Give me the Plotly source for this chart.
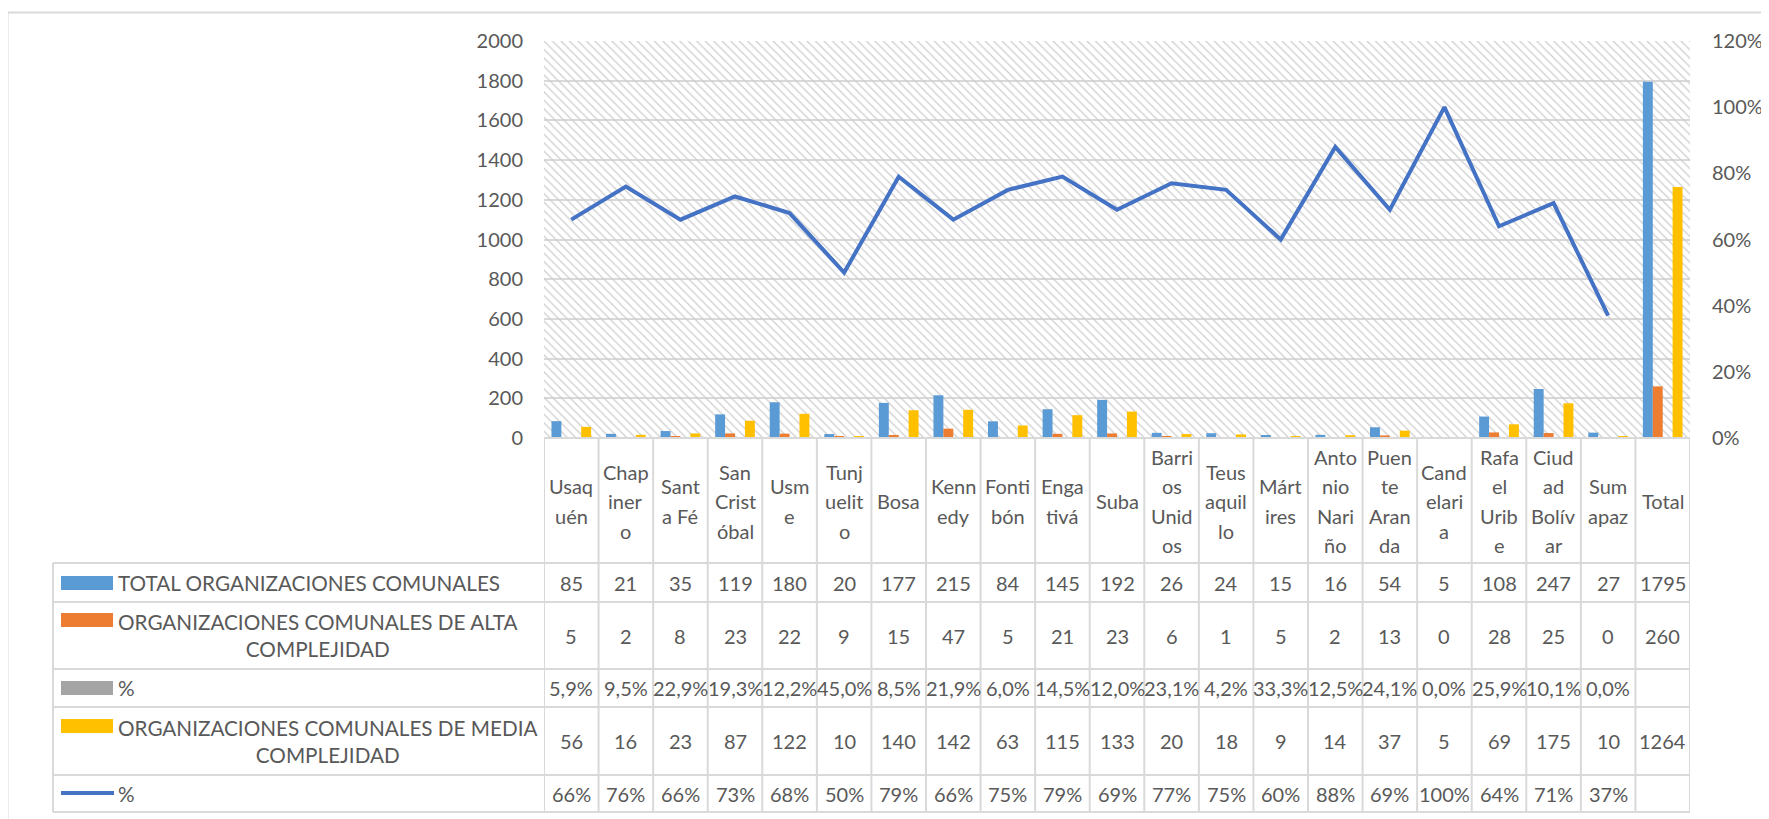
import plotly.graph_objects as go

# ---------------- data ----------------
categories = ["Usaquén", "Chapinero", "Santa Fé", "San Cristóbal", "Usme", "Tunjuelito",
              "Bosa", "Kennedy", "Fontibón", "Engativá", "Suba", "Barrios Unidos",
              "Teusaquillo", "Mártires", "Antonio Nariño", "Puente Aranda", "Candelaria",
              "Rafael Uribe", "Ciudad Bolívar", "Sumapaz", "Total"]
category_lines = [["Usaq", "uén"], ["Chap", "iner", "o"], ["Sant", "a Fé"], ["San", "Crist", "óbal"],
                  ["Usm", "e"], ["Tunj", "uelit", "o"], ["Bosa"], ["Kenn", "edy"], ["Fonti", "bón"],
                  ["Enga", "tivá"], ["Suba"], ["Barri", "os", "Unid", "os"], ["Teus", "aquil", "lo"],
                  ["Márt", "ires"], ["Anto", "nio", "Nari", "ño"], ["Puen", "te", "Aran", "da"],
                  ["Cand", "elari", "a"], ["Rafa", "el", "Urib", "e"], ["Ciud", "ad", "Bolív", "ar"],
                  ["Sum", "apaz"], ["Total"]]

total_org = [85, 21, 35, 119, 180, 20, 177, 215, 84, 145, 192, 26, 24, 15, 16, 54, 5, 108, 247, 27, 1795]
alta_org = [5, 2, 8, 23, 22, 9, 15, 47, 5, 21, 23, 6, 1, 5, 2, 13, 0, 28, 25, 0, 260]
pct_alta = [5.9, 9.5, 22.9, 19.3, 12.2, 45.0, 8.5, 21.9, 6.0, 14.5, 12.0, 23.1, 4.2, 33.3, 12.5,
            24.1, 0.0, 25.9, 10.1, 0.0, None]
media_org = [56, 16, 23, 87, 122, 10, 140, 142, 63, 115, 133, 20, 18, 9, 14, 37, 5, 69, 175, 10, 1264]
pct_media = [66, 76, 66, 73, 68, 50, 79, 66, 75, 79, 69, 77, 75, 60, 88, 69, 100, 64, 71, 37, None]

series_names = ["TOTAL ORGANIZACIONES COMUNALES",
                "ORGANIZACIONES COMUNALES DE ALTA<br>COMPLEJIDAD",
                "%",
                "ORGANIZACIONES COMUNALES DE MEDIA<br>COMPLEJIDAD",
                "%"]
left_ticks = list(range(0, 2001, 200))
right_ticks = [0, 0.2, 0.4, 0.6, 0.8, 1.0, 1.2]

# ---------------- style ----------------
OFF = 8                                      # default page body margin
W, H = 1769 - OFF, 819 - OFF
PL, PR, PT, PB = 544, 1690, 41, 438          # plot area in screen pixels
FONT = "Lato"
TXT = "#595959"
GRID = "#D9D9D9"
C_BLUE, C_ORANGE, C_GRAY, C_YELLOW, C_LINE = "#5B9BD5", "#ED7D31", "#A5A5A5", "#FFC000", "#4472C4"


def px(p):
    return (p - PL) / (PR - PL)


def py(p):
    return (PB - p) / (PB - PT)


fig = go.Figure()

# hatched plot-area background
fig.add_trace(go.Bar(x=[categories[len(categories) // 2]], y=[1], width=[len(categories)],
                     marker=dict(color="#CDCDCD", line=dict(width=0),
                                 pattern=dict(shape="\\", size=6, solidity=0.2, fillmode="replace")),
                     xaxis="x", yaxis="y", hoverinfo="skip", showlegend=False))

bar_series = [(total_org, C_BLUE), (alta_org, C_ORANGE),
              ([None if v is None else v / 100 for v in pct_alta], C_GRAY), (media_org, C_YELLOW)]
for (vals, col), name in zip(bar_series, series_names[:4]):
    fig.add_trace(go.Bar(x=categories, y=vals, name=name.replace("<br>", " "), marker_color=col,
                         marker_line_width=0, xaxis="x", yaxis="y2", showlegend=False))

fig.add_trace(go.Scatter(x=categories, y=[None if v is None else v / 100 for v in pct_media],
                         mode="lines", line=dict(color=C_LINE, width=4), name="%",
                         xaxis="x", yaxis="y3", showlegend=False))

# ---------------- data table ----------------
row_bounds = [563, 602, 669, 707, 775, 812]
row_centers = [583, 635.5, 688, 741, 793.5]
shapes = []
line_style = dict(color=GRID, width=2)
shapes.append(dict(type="line", xref="paper", yref="paper", x0=0, x1=1, y0=0, y1=0, line=line_style))
for yb in row_bounds:
    shapes.append(dict(type="line", xref="paper", yref="paper", x0=px(53), x1=1,
                       y0=py(yb), y1=py(yb), line=line_style))
shapes.append(dict(type="line", xref="paper", yref="paper", x0=px(53), x1=px(53),
                   y0=py(row_bounds[0]), y1=py(row_bounds[-1]), line=line_style))
for i in range(len(categories) + 1):
    shapes.append(dict(type="line", xref="x", yref="paper", x0=i - 0.5, x1=i - 0.5,
                       y0=0, y1=py(row_bounds[-1]), line=line_style))
# outer chart border
shapes.append(dict(type="rect", xref="paper", yref="paper", x0=px(7.5), x1=px(1800),
                   y0=py(12.5), y1=py(850), line=line_style, layer="below"))

# legend keys
key_cols = [C_BLUE, C_ORANGE, C_GRAY, C_YELLOW]
key_y = [583, 620, 688, 726]
for col, ky in zip(key_cols, key_y):
    shapes.append(dict(type="rect", xref="paper", yref="paper", x0=px(61), x1=px(113),
                       y0=py(ky - 7), y1=py(ky + 7), fillcolor=col, line=dict(width=0)))
shapes.append(dict(type="line", xref="paper", yref="paper", x0=px(61), x1=px(114),
                   y0=py(793), y1=py(793), line=dict(color=C_LINE, width=4)))

annotations = []
tfont = dict(family=FONT, size=20, color=TXT)
nfont = dict(family=FONT, size=20.7, color=TXT)
for cat, lines in zip(categories, category_lines):
    n = len(lines)
    for k, ln in enumerate(lines):
        yc = 501 + (k - (n - 1) / 2) * 29.5
        annotations.append(dict(x=cat, y=py(yc), xref="x", yref="paper", text=ln, showarrow=False,
                                xanchor="center", yanchor="middle", font=tfont))
for name, yc in zip(series_names, row_centers):
    annotations.append(dict(x=px(116), y=py(yc), xref="paper", yref="paper", text=name,
                            showarrow=False, xanchor="left", yanchor="middle", align="center",
                            font=nfont))
row_texts = [
    [str(v) for v in total_org],
    [str(v) for v in alta_org],
    ["" if v is None else f"{v:.1f}".replace(".", ",") + "%" for v in pct_alta],
    [str(v) for v in media_org],
    ["" if v is None else f"{v}%" for v in pct_media],
]
for texts, yc in zip(row_texts, row_centers):
    for cat, t in zip(categories, texts):
        if t:
            annotations.append(dict(x=cat, y=py(yc), xref="x", yref="paper", text=t,
                                    showarrow=False, xanchor="center", yanchor="middle", font=tfont))

fig.update_layout(
    width=W, height=H,
    margin=dict(l=PL - OFF, r=1769 - PR, t=PT - OFF, b=819 - PB, autoexpand=False),
    paper_bgcolor="white", plot_bgcolor="white",
    barmode="group", bargap=0.273, bargroupgap=0,
    font=dict(family=FONT, size=20, color=TXT),
    xaxis=dict(type="category", categoryorder="array", categoryarray=categories,
               range=[-0.5, len(categories) - 0.5], showticklabels=False, showgrid=False,
               zeroline=False, showline=False, ticks=""),
    yaxis=dict(range=[0, 1], visible=False, fixedrange=True),
    yaxis2=dict(overlaying="y", side="left", range=[0, 2000], tickvals=left_ticks,
                showgrid=True, gridcolor=GRID, gridwidth=2, zeroline=False, showline=False,
                ticks="", ticklabelstandoff=20, tickfont=dict(family=FONT, size=20, color=TXT)),
    yaxis3=dict(overlaying="y", side="right", range=[0, 1.2], tickvals=right_ticks,
                tickformat=".0%", showgrid=False, zeroline=False, showline=False,
                ticks="", ticklabelstandoff=21, tickfont=dict(family=FONT, size=20, color=TXT)),
    shapes=shapes,
    annotations=annotations,
)

fig.write_html("out.html")
